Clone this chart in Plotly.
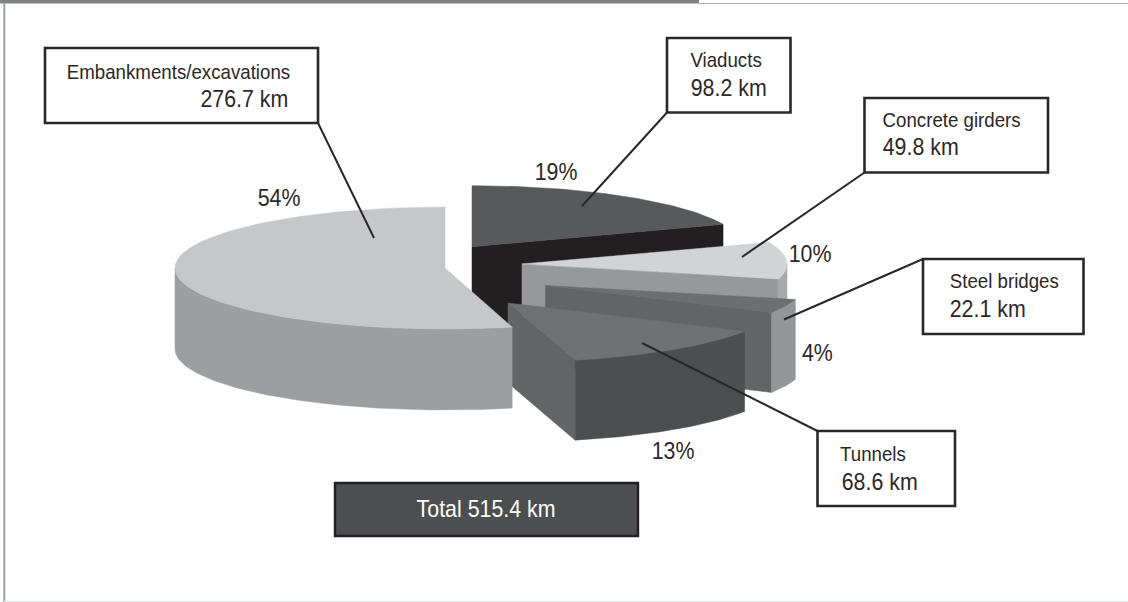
import plotly.graph_objects as go
import numpy as np

# Length of the line by structure type, in km
categories = ["Viaducts", "Concrete girders", "Steel bridges", "Tunnels", "Embankments/excavations"]
lengths_km = [98.2, 49.8, 22.1, 68.6, 276.7]
total_km = 515.4

INK = "#2b2728"
FONT = "Liberation Sans, Arial, sans-serif"
NAME_SIZE = 21
VALUE_SIZE = 24

shares = [round(100 * v / total_km) for v in lengths_km]

# Placement of each exploded wedge in page pixels: apex x, apex y, radii, extrusion depth
wedge_geometry = [
    (472, 246.7, 270, 61, 80),
    (522, 264, 265, 60, 80),
    (545.5, 285.5, 258, 56, 80),
    (508, 303, 270, 59, 80),
    (445, 268, 270, 61, 81),
]
top_colors = ["#58595b", "#d1d3d4", "#6d6e71", "#707174", "#c6c7c9"]
cut_colors = ["#231f20", "#97989b", "#636466", "#636466", "#9d9ea1"]
rim_colors = ["#231f20", "#a7a9ac", "#939598", "#4d4e50", "#9d9ea1"]

# Callouts: box edges, then leader start and end
boxes = [
    (667, 790.5, 38, 112.5, (667, 112.5), (582, 206)),
    (864.5, 1048, 98, 172.5, (864.5, 172.5), (742, 257)),
    (923, 1083.5, 259, 334, (923, 259), (784, 319.5)),
    (817.5, 955, 431, 506, (817.5, 431), (642, 343)),
    (45, 318, 48, 123, (318, 123), (374, 238)),
]
# Text centres: name line, value line, percentage
name_positions = [(725.5, 59.5), (951, 119), (1004, 280.5), (873, 453), (178, 71)]
value_positions = [(728, 87), (920, 146.5), (987, 308), (879, 481), (244.5, 98.5)]
pct_positions = [(556, 171), (810, 253), (817, 352), (673, 450), (278.5, 197)]


def arc(cx, cy, rx, ry, a0, a1, n=80):
    t = np.radians(np.linspace(a0, a1, n))
    return cx + rx * np.sin(t), cy - ry * np.cos(t)


def polygon(fig, xs, ys, color):
    fig.add_trace(go.Scatter(
        x=list(xs) + [xs[0]], y=list(ys) + [ys[0]], mode="lines", fill="toself",
        fillcolor=color, line=dict(color=color, width=0.5), hoverinfo="skip", showlegend=False,
    ))


fig = go.Figure()

start = 0.0
for i, share in enumerate(shares):
    sweep = 3.6 * share
    a0, a1 = start, start + sweep
    start = a1
    cx, cy, rx, ry, d = wedge_geometry[i]

    # Straight cut face on the side turned to the viewer
    if a1 < 180:
        ex, ey = arc(cx, cy, rx, ry, a1, a1, 1)
        polygon(fig, [cx, ex[0], ex[0], cx], [cy, ey[0], ey[0] + d, cy + d], cut_colors[i])

    # Outer rim: only the front half of the ellipse shows
    lo, hi = max(a0, 90), min(a1, 270)
    if hi > lo:
        rim_x, rim_y = arc(cx, cy, rx, ry, lo, hi)
        polygon(fig, np.r_[rim_x, rim_x[::-1]], np.r_[rim_y, rim_y[::-1] + d], rim_colors[i])

    # Top face
    top_x, top_y = arc(cx, cy, rx, ry, a0, a1)
    polygon(fig, np.r_[cx, top_x], np.r_[cy, top_y], top_colors[i])


def text(pos, s, size, color=INK):
    fig.add_annotation(x=pos[0], y=pos[1], text=s, showarrow=False, xref="x", yref="y",
                       xanchor="center", yanchor="middle",
                       font=dict(family=FONT, size=size, color=color))


for i, name in enumerate(categories):
    x0, x1, y0, y1, p0, p1 = boxes[i]
    fig.add_shape(type="line", x0=p0[0], y0=p0[1], x1=p1[0], y1=p1[1], line=dict(color=INK, width=2))
    fig.add_shape(type="rect", x0=x0, x1=x1, y0=y0, y1=y1, line=dict(color=INK, width=2.6), fillcolor="white")
    text(name_positions[i], name, NAME_SIZE)
    text(value_positions[i], f"{lengths_km[i]} km", VALUE_SIZE)
    text(pct_positions[i], f"{shares[i]}%", VALUE_SIZE)

# Total banner
fig.add_shape(type="rect", x0=335, x1=638, y0=483, y1=536, line=dict(color="#231f20", width=2.4), fillcolor="#4d4e50")
text((486, 508), f"Total {total_km} km", VALUE_SIZE, "white")

# Page frame
fig.add_shape(type="rect", x0=0, x1=699, y0=0, y1=3.5, line=dict(width=0), fillcolor="#808285")
fig.add_shape(type="line", x0=699, x1=1128, y0=3.5, y1=3.5, line=dict(color="#a7a9ac", width=1))
fig.add_shape(type="line", x0=4.3, x1=4.3, y0=3, y1=602, line=dict(color="#a0a2a5", width=2))
fig.add_shape(type="line", x0=4, x1=1128, y0=601.5, y1=601.5, line=dict(color="#e6e7e8", width=1))

fig.update_layout(
    width=1128, height=602, margin=dict(l=0, r=0, t=0, b=0),
    paper_bgcolor="white", plot_bgcolor="white", showlegend=False,
    xaxis=dict(range=[0, 1128], visible=False, fixedrange=True),
    yaxis=dict(range=[602, 0], visible=False, fixedrange=True),
)

# Set all labels in a condensed cut of the typeface
condense = """
document.querySelectorAll('.annotation-text').forEach(function (t) {
  t.setAttribute('textLength', t.getComputedTextLength() * 0.89);
  t.setAttribute('lengthAdjust', 'spacingAndGlyphs');
});
"""
fig.write_html("out.html", config={"displayModeBar": False}, post_script=condense)
